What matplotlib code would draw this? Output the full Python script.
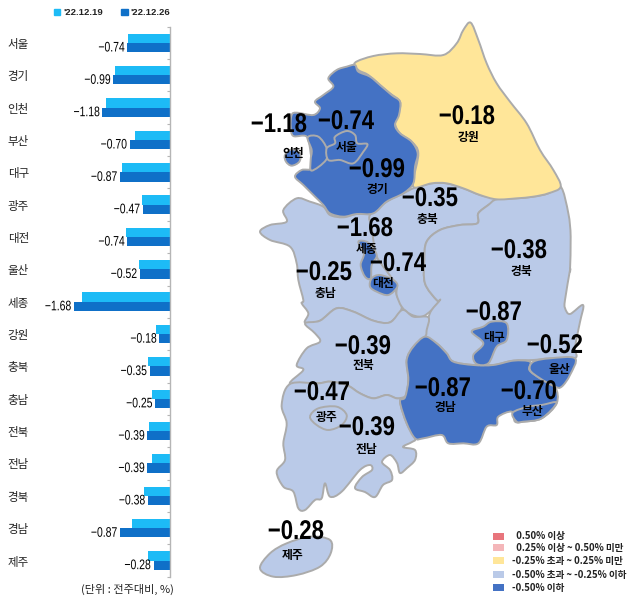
import matplotlib
matplotlib.use('Agg')
import matplotlib.pyplot as plt
from matplotlib.patches import Patch, PathPatch, Rectangle
from matplotlib.path import Path
from matplotlib.patheffects import AbstractPathEffect
from matplotlib.transforms import Affine2D
import numpy as np

KR = ['Noto Sans CJK KR', 'DejaVu Sans']
LATIN = ['Liberation Sans', 'DejaVu Sans']
plt.rcParams['font.family'] = KR

# bar chart data
regions = ['서울', '경기', '인천', '부산', '대구', '광주', '대전', '울산', '세종',
           '강원', '충북', '충남', '전북', '전남', '경북', '경남', '제주']
prev_week = [-0.72, -0.96, -1.12, -0.60, -0.83, -0.49, -0.77, -0.53, -1.53,
             -0.23, -0.38, -0.30, -0.36, -0.30, -0.45, -0.65, -0.37]
this_week = [-0.74, -0.99, -1.18, -0.70, -0.87, -0.47, -0.74, -0.52, -1.68,
             -0.18, -0.35, -0.25, -0.39, -0.39, -0.38, -0.87, -0.28]
series_names = ["'22.12.19", "'22.12.26"]

# map legend
legend_labels = ['  0.50% 이상', '  0.25% 이상 ~ 0.50% 미만', '-0.25% 초과 ~ 0.25% 미만',
                 '-0.50% 초과 ~ -0.25% 이하', '-0.50% 이하']
legend_colors = ['#E8757C', '#F4B6B9', '#FFE699', '#BACAE8', '#4472C4']

LIGHT = '#BACAE8'
BLUE = '#4472C4'
YELLOW = '#FFE699'


def top(pts):
    return [(240 + x / 3, 20 + y / 3) for x, y in pts]


def low(pts):
    return [(240 + x / 3, 290 + y / 3) for x, y in pts]


gangwon = top([(345, 128), (400, 108), (470, 100), (540, 102), (610, 105), (650, 70), (670, 30), (692, 8),
               (715, 60), (740, 130), (770, 190), (810, 245), (860, 310), (900, 390), (940, 450), (962, 500),
               (925, 520), (880, 530), (830, 535), (770, 538), (720, 525), (670, 505), (620, 490), (575, 490),
               (525, 503), (520, 480), (535, 400), (515, 365), (480, 340), (465, 310), (475, 280), (480, 245),
               (450, 220), (420, 195), (385, 165), (355, 150)])
# takes in the northern Incheon piece as well, no border shows between them
gyeonggi = top([(345, 135), (355, 155), (390, 170), (420, 195), (455, 225), (480, 245), (477, 285), (465, 315),
                (480, 340), (515, 365), (533, 400), (525, 440), (520, 490), (490, 520), (440, 545), (400, 580),
                (350, 582), (310, 590), (270, 580), (250, 555), (225, 530), (190, 495), (165, 470), (185, 450),
                (215, 445), (212, 400), (200, 350), (160, 348), (152, 320), (155, 285), (170, 278), (220, 285),
                (240, 265), (225, 245), (250, 225), (280, 200), (265, 175), (290, 150), (320, 140)])
incheon_a = top([(203, 352), (235, 350), (260, 385), (258, 420), (215, 452), (212, 420), (215, 390)])
incheon_c = top([(135, 405), (155, 388), (180, 400), (178, 425), (155, 437), (138, 425)])
seoul = top([(285, 350), (320, 333), (345, 345), (352, 370), (382, 372), (370, 395), (340, 430), (300, 420),
             (265, 420), (260, 385), (285, 370)])
chungbuk = top([(525, 503), (575, 490), (620, 490), (670, 505), (720, 525), (770, 538), (745, 555), (715, 580),
                (712, 610), (660, 615), (600, 630), (560, 665), (553, 720), (555, 790), (590, 840)]) + \
    low([(600, 30), (575, 60), (545, 80), (510, 72), (485, 50), (470, 15)]) + \
    top([(470, 800), (460, 780), (410, 710), (400, 660), (395, 620), (390, 585), (440, 545), (490, 520)])
chungnam = top([(130, 570), (170, 535), (210, 545), (250, 560), (270, 585), (310, 592), (350, 582), (390, 585),
                (395, 620), (405, 665), (410, 710), (460, 780), (470, 825)]) + \
    low([(485, 55), (450, 97), (400, 92), (340, 65), (290, 55), (240, 92), (195, 98), (205, 70), (185, 40)]) + \
    top([(190, 840), (175, 780), (170, 730), (150, 680), (90, 660), (60, 635), (90, 615), (140, 605)])
sejong = top([(355, 665), (385, 668), (410, 705), (395, 735), (392, 775), (375, 770), (362, 735), (372, 700)])
daejeon = top([(395, 775), (420, 765), (460, 780), (472, 800), (445, 825), (410, 815), (390, 800)])
gyeongbuk = top([(770, 538), (830, 535), (880, 530), (925, 520), (962, 500), (985, 580), (992, 650), (990, 750)]) + \
    [(570, 270), (565, 300), (565, 308), (570, 314), (583, 305), (580, 322), (575, 347), (575, 358)] + \
    low([(930, 205), (880, 210), (820, 212), (760, 225), (700, 225), (640, 215), (620, 190), (590, 160),
         (555, 140), (565, 85), (575, 60), (600, 30)]) + \
    top([(590, 840), (555, 790), (553, 720), (560, 665), (600, 630), (660, 615), (712, 610), (715, 580), (745, 555)])
jeonbuk = low([(195, 100), (240, 92), (290, 55), (340, 65), (400, 92), (450, 97), (487, 60), (520, 80), (565, 82),
               (560, 120), (555, 140), (520, 170), (500, 210), (505, 270), (495, 320), (470, 325), (440, 315),
               (400, 325), (360, 310), (320, 285), (270, 275), (235, 280), (150, 282), (190, 240), (170, 225),
               (200, 175), (240, 155), (225, 130)])
jeonnam = low([(150, 282), (235, 280), (270, 275), (320, 285), (360, 310), (400, 325), (440, 315), (470, 325),
               (495, 322), (480, 335), (500, 400), (525, 445)]) + \
    [(412, 442), (403, 447), (415, 450), (415, 460), (407, 468), (400, 473), (397, 463), (390, 455), (382, 462),
     (390, 470), (392, 480), (383, 485), (375, 497), (365, 492), (355, 488), (362, 477), (372, 470), (370, 465),
     (360, 470)] + \
    low([(305, 605), (270, 620), (255, 580), (245, 625), (225, 630), (195, 660), (175, 655), (160, 605), (130, 590),
         (110, 545), (135, 510), (130, 460), (140, 400), (125, 345)])
gwangju = low([(210, 380), (235, 355), (290, 350), (320, 375), (305, 405), (265, 420), (230, 405)])
gyeongnam = low([(555, 140), (590, 160), (620, 190), (640, 215), (700, 225), (760, 225), (820, 212), (870, 215),
                 (868, 240), (900, 265), (945, 290), (950, 340), (905, 385), (850, 395), (825, 395), (815, 365),
                 (775, 380), (770, 405), (740, 410), (715, 460), (670, 460), (625, 460), (605, 435), (550, 445),
                 (525, 445), (500, 400), (480, 335), (495, 322), (505, 270), (500, 210), (520, 170)])
busan = low([(818, 368), (865, 350), (905, 345), (950, 338), (905, 385), (850, 395), (830, 395)])
ulsan = low([(870, 240), (880, 215), (930, 205), (1005, 205), (990, 255), (965, 290), (945, 290), (900, 265)])
daegu = low([(695, 125), (730, 110), (755, 95), (800, 100), (800, 150), (770, 170), (745, 220), (710, 222),
             (700, 195), (730, 160)])
jeju = low([(60, 835), (90, 790), (140, 760), (210, 740), (270, 750), (272, 790), (240, 830), (170, 855), (100, 860)])

map_shapes = [(chungnam, LIGHT), (chungbuk, LIGHT), (gyeongbuk, LIGHT), (jeonbuk, LIGHT), (jeonnam, LIGHT),
              (gwangju, LIGHT), (jeju, LIGHT), (gangwon, YELLOW), (gyeonggi, BLUE), (incheon_a, BLUE),
              (incheon_c, BLUE), (seoul, BLUE), (sejong, BLUE), (daejeon, BLUE),
              (gyeongnam, BLUE), (busan, BLUE), (ulsan, BLUE), (daegu, BLUE)]

# region name, value, value centre, name centre
map_labels = [('강원', -0.18, (467, 117), (468, 137)), ('서울', -0.74, (346, 122), (347, 147)),
              ('인천', -1.18, (279, 125), (293, 154)), ('경기', -0.99, (377, 170), (377, 189)),
              ('충북', -0.35, (430, 199), (427, 219)), ('세종', -1.68, (365, 229), (367, 250)),
              ('대전', -0.74, (398, 264), (383, 283)), ('충남', -0.25, (324, 273), (325, 293)),
              ('경북', -0.38, (519, 251), (521, 271)), ('대구', -0.87, (494, 313), (494, 338)),
              ('울산', -0.52, (555, 346), (559, 369)), ('전북', -0.39, (363, 347), (363, 366)),
              ('광주', -0.47, (322, 393), (327, 417)), ('경남', -0.87, (443, 389), (445, 408)),
              ('부산', -0.70, (529, 392), (532, 412)), ('전남', -0.39, (367, 428), (366, 449)),
              ('제주', -0.28, (296, 532), (293, 555))]


def smooth_path(pts):
    # closed Catmull-Rom curve, goes through every traced point so shared borders meet
    pts = np.array(pts, dtype=float)
    prv, nxt, nxt2 = np.roll(pts, 1, axis=0), np.roll(pts, -1, axis=0), np.roll(pts, -2, axis=0)
    verts = [pts[0]]
    codes = [Path.MOVETO]
    for p0, p1, p2, p3 in zip(prv, pts, nxt, nxt2):
        verts += [p1 + (p2 - p0) / 6, p2 - (p3 - p1) / 6, p2]
        codes += [Path.CURVE4] * 3
    return Path(verts, codes)


class Narrow(AbstractPathEffect):
    # no condensed font here, so squeeze the glyphs sideways when the text is drawn
    def __init__(self, sx, anchor='center'):
        super().__init__()
        self.sx = sx
        self.anchor = anchor

    def draw_path(self, renderer, gc, tpath, affine, rgbFace=None):
        ext = tpath.get_extents(affine)
        x0 = ext.x1 if self.anchor == 'right' else (ext.x0 + ext.x1) / 2
        squeeze = Affine2D().translate(-x0, 0).scale(self.sx, 1).translate(x0, 0)
        renderer.draw_path(gc, tpath, affine + squeeze, rgbFace)


W, H = 640, 604
fig = plt.figure(figsize=(W / 100, H / 100), dpi=100)

# map and everything placed in picture pixels
mp = fig.add_axes([0, 0, 1, 1])
mp.set_xlim(0, W)
mp.set_ylim(H, 0)
mp.axis('off')

for pts, col in map_shapes:
    mp.add_patch(PathPatch(smooth_path(pts), facecolor=col, edgecolor='#ABABAB', lw=1.4, joinstyle='round'))

for name, val, vpos, npos in map_labels:
    mp.text(vpos[0], vpos[1], f'\u2212{abs(val):.2f}', family=LATIN, fontsize=19.5, fontweight='bold',
            color='black', ha='center', va='center', path_effects=[Narrow(0.82)])
    mp.text(npos[0], npos[1], name, fontsize=8.5, fontweight='bold', color='black', ha='center', va='center')

legend_rows = [536, 547.7, 560.7, 574.7, 587.7]
for y, label, col in zip(legend_rows, legend_labels, legend_colors):
    mp.add_patch(Rectangle((492.7, y - 3.5), 11.5, 7, facecolor=col, edgecolor='none'))
    mp.text(512.3, y, label, fontsize=6.9, fontweight='bold', color='#222222', ha='left', va='center')

mp.text(127, 589, '(단위 : 전주대비, %)', fontsize=8, color='#222222', ha='center', va='center')

# bars
left_px, right_px, top_px, bottom_px = 33, 169.5, 26.7, 576.7
bar = fig.add_axes([left_px / W, 1 - bottom_px / H, (right_px - left_px) / W, (bottom_px - top_px) / H])
bar.patch.set_alpha(0)
bar.set_xlim(-(right_px - left_px) / 57, 0)
bar.set_ylim(len(regions) - 0.5, -0.5)
y = np.arange(len(regions))
h = 0.285
bar.barh(y - h / 2, prev_week, h, color='#1DBBF6', label=series_names[0])
bars2 = bar.barh(y + h / 2, this_week, h, color='#0F70C8', label=series_names[1])
for rect, val in zip(bars2, this_week):
    bar.annotate(f'\u2212{abs(val):.2f}', (val, rect.get_y() + h / 2), xytext=(-1.8, 0), textcoords='offset points',
                 family=LATIN, fontsize=10, color='black', ha='right', va='center',
                 path_effects=[Narrow(0.75, 'right')])

for s in ['left', 'top', 'bottom']:
    bar.spines[s].set_visible(False)
bar.spines['right'].set_color('#B5B5B5')
bar.spines['right'].set_linewidth(1.0)
bar.set_xticks([])
bar.yaxis.set_ticks_position('right')
bar.set_yticks(np.arange(len(regions) + 1) - 0.5, labels=[])
bar.tick_params(axis='y', which='major', direction='in', length=2.5, color='#B5B5B5', labelright=False)
bar.set_yticks(y, labels=regions, minor=True)
bar.tick_params(axis='y', which='minor', right=False, left=False, labelright=False, labelleft=True,
                pad=1.0, labelsize=8.3, labelcolor='#222222')

handles = [Patch(color='#1DBBF6', label=series_names[0]), Patch(color='#0F70C8', label=series_names[1])]
fig.legend(handles=handles, loc='center', bbox_to_anchor=(112.5 / W, 1 - 12.7 / H), ncol=2, frameon=False,
           prop={'family': LATIN, 'weight': 'bold', 'size': 6.8},
           handlelength=0.64, handleheight=0.64, handletextpad=0.35, columnspacing=1.9, borderpad=0,
           labelcolor='#222222')

fig.savefig('out.png', dpi=100)
